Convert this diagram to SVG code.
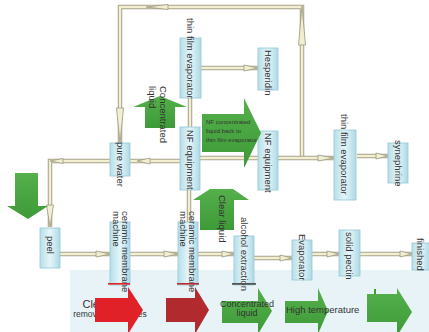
<svg xmlns="http://www.w3.org/2000/svg" width="429" height="332" viewBox="0 0 429 332">
<defs>
<linearGradient id="box" x1="0" y1="0" x2="1" y2="0">
<stop offset="0" stop-color="#b6dfe9"/>
<stop offset="0.5" stop-color="#e4f5f9"/>
<stop offset="1" stop-color="#aed9e4"/>
</linearGradient>
<linearGradient id="grn" x1="0" y1="0" x2="0" y2="1">
<stop offset="0" stop-color="#55b04c"/>
<stop offset="1" stop-color="#3d9a36"/>
</linearGradient>
</defs>
<style>
.po{fill:none;stroke:#a8a58e;stroke-width:4.5}
.pi{fill:none;stroke:#f2eed2;stroke-width:2.4}
.ah{fill:#f2eed2;stroke:#9a987f;stroke-width:0.8}
.bx{fill:url(#box);stroke:#95c9d6;stroke-width:0.8}
.t{font-family:"Liberation Sans",Arial,sans-serif;font-size:9.5px;fill:#333}
.bt{font-family:"Liberation Sans",Arial,sans-serif;fill:#333}
.g{fill:url(#grn)}
</style>
<rect width="429" height="332" fill="#ffffff"/>
<rect x="70" y="270" width="359" height="62" fill="#e7f3f7"/>

<g id="connectors">
<path class="po" d="M302,158 V7 H120 V143"/>
<path class="pi" d="M302,158 V7 H120 V143"/>
<polygon class="ah" points="298.5,45 302,6 305.5,45"/>
<polygon class="ah" points="168,4.5 146,7 168,9.5"/>
<polygon class="ah" points="116.5,108 120,143 123.5,108"/>
<path class="po" d="M110,161 H50 V227"/>
<path class="pi" d="M110,161 H50 V227"/>
<polygon class="ah" points="46.5,205 50,227 53.5,205"/>
<polygon class="ah" points="63,158.5 50,161 63,163.5"/>
<path class="po" d="M180,161 H130"/>
<path class="pi" d="M180,161 H130"/>
<polygon class="ah" points="150,158 137,161 150,164"/>
<path class="po" d="M200,158 H334"/>
<path class="pi" d="M200,158 H334"/>
<polygon class="ah" points="318,155 334,158 318,161"/>
<path class="po" d="M357,156 H388"/>
<path class="pi" d="M357,156 H388"/>
<polygon class="ah" points="376,153 388,156 376,159"/>
<path class="po" d="M201,68 H258"/>
<path class="pi" d="M201,68 H258"/>
<polygon class="ah" points="244,65 258,68 244,71"/>
<path class="po" d="M190,98 V127"/>
<path class="pi" d="M190,98 V127"/>
<path class="po" d="M189,190 V222"/>
<path class="pi" d="M189,190 V222"/>
<path class="po" d="M60,254 H110"/>
<path class="pi" d="M60,254 H110"/>
<polygon class="ah" points="96,251 110,254 96,257"/>
<path class="po" d="M130,254 H178"/>
<path class="pi" d="M130,254 H178"/>
<polygon class="ah" points="164,251 178,254 164,257"/>
<path class="po" d="M198,254 H234"/>
<path class="pi" d="M198,254 H234"/>
<polygon class="ah" points="222,251 234,254 222,257"/>
<path class="po" d="M254,258 H292"/>
<path class="pi" d="M254,258 H292"/>
<polygon class="ah" points="280,255 292,258 280,261"/>
<path class="po" d="M312,254 H339"/>
<path class="pi" d="M312,254 H339"/>
<polygon class="ah" points="327,251 339,254 327,257"/>
<path class="po" d="M360,254 H412"/>
<path class="pi" d="M360,254 H412"/>
<polygon class="ah" points="400,251 412,254 400,257"/>
</g>

<g id="n1"><rect class="bx" x="180" y="38" width="21" height="60"/><text class="t" transform="translate(187,18) rotate(90)">thin film evaporator</text></g>
<g id="n2"><rect class="bx" x="258" y="48" width="20" height="42"/><text class="t" font-size="9" transform="translate(264.5,50) rotate(90)">Hesperidin</text></g>
<g id="n3"><rect class="bx" x="110" y="143" width="20" height="33"/><text class="t" transform="translate(116.5,142) rotate(90)">pure water</text></g>
<g id="n4"><rect class="bx" x="180" y="127" width="20" height="63"/><text class="t" transform="translate(186.5,130) rotate(90)">NF equipment</text></g>
<g id="n5"><rect class="bx" x="258" y="131" width="20" height="59"/><text class="t" transform="translate(264.5,133) rotate(90)">NF equipment</text></g>
<g id="n6"><rect class="bx" x="334" y="130" width="22" height="70"/><text class="t" transform="translate(340.5,114) rotate(90)">thin film evaporator</text></g>
<g id="n7"><rect class="bx" x="388" y="143" width="20" height="40"/><text class="t" transform="translate(394.5,140) rotate(90)">synephrine</text></g>
<g id="n8"><rect class="bx" x="40" y="228" width="20" height="40"/><text class="t" transform="translate(46.5,236) rotate(90)">peel</text></g>
<g id="n9"><rect class="bx" x="110" y="222" width="20" height="63"/><text class="t" transform="translate(121.5,211) rotate(90)">ceramic membrane</text><text class="t" transform="translate(112.5,211) rotate(90)">machine</text><rect x="108" y="283" width="22" height="1.6" fill="#e02127"/></g>
<g id="n10"><rect class="bx" x="178" y="222" width="20" height="63"/><text class="t" transform="translate(188.5,211) rotate(90)">ceramic membrane</text><text class="t" transform="translate(179.5,211) rotate(90)">machine</text><rect x="177" y="283" width="22" height="1.6" fill="#c0282c"/></g>
<g id="n11"><rect class="bx" x="234" y="236" width="20" height="49"/><text class="t" transform="translate(240.5,217) rotate(90)">alcohol extraction</text><rect x="232" y="283" width="24" height="1.8" fill="#555"/></g>
<g id="n12"><rect class="bx" x="292" y="240" width="20" height="40"/><text class="t" transform="translate(298.5,234) rotate(90)">Evaporator</text></g>
<g id="n13"><rect class="bx" x="339" y="230" width="21" height="46"/><text class="t" transform="translate(346,232) rotate(90)">solid pectin</text></g>
<g id="n14"><rect class="bx" x="412" y="243" width="18" height="27"/><text class="t" transform="translate(416.5,238) rotate(90)">finished</text></g>

<g id="arrow-down"><polygon class="g" points="15,173 38,173 38,206 48,206 28,219 7,206 15,206"/></g>
<g id="arrow-concentrated"><polygon class="g" points="145,128 145,107 133,107 160,96 187,107 175,107 175,128"/><text class="t" transform="translate(159.5,86) rotate(90)">Concentrated</text><text class="t" transform="translate(149,86) rotate(90)">liquid</text></g>
<g id="arrow-nf"><polygon class="g" points="202,114 244,114 244,98 261,133 244,168 244,152 202,152"/><text class="bt" font-size="6" fill="#2d6e28" x="206" y="124">NF concentrated</text><text class="bt" font-size="6" fill="#2d6e28" x="206" y="133">liquid back to</text><text class="bt" font-size="6" fill="#2d6e28" x="206" y="142">thin film evaporator</text></g>
<g id="arrow-clear"><polygon class="g" points="200,230 200,200 193,200 210,189 233,189 249,200 234,200 234,230"/><text class="t" transform="translate(218.5,195) rotate(90)">Clear liquid</text></g>

<g id="bottom">
<text class="bt" font-size="11" text-anchor="middle" x="110" y="308">Clear liquid</text>
<text class="bt" font-size="8.5" text-anchor="middle" x="110" y="317">removing impurities</text>
<polygon fill="#e02127" points="95,298 128,298 128,287 143,310 128,334 128,322 95,322"/>
<polygon fill="#b02a2e" points="166,298 195,298 195,287 209,310 195,334 195,322 166,322"/>
<polygon class="g" points="222,301 258,301 258,288 272,311 258,334 258,323 222,323"/>
<text class="bt" font-size="9" text-anchor="middle" x="247" y="307">Concentrated</text>
<text class="bt" font-size="9" text-anchor="middle" x="247" y="316">liquid</text>
<polygon class="g" points="285,301 318,301 318,288 328,311 318,334 318,323 285,323"/>
<text class="bt" font-size="9.5" x="286" y="313">High temperature</text>
<polygon class="g" points="367,294 397,294 397,288 412,312 397,336 397,322 367,322"/>
<rect x="374" y="289" width="2" height="5" fill="#3d9a36"/>
</g>
</svg>
